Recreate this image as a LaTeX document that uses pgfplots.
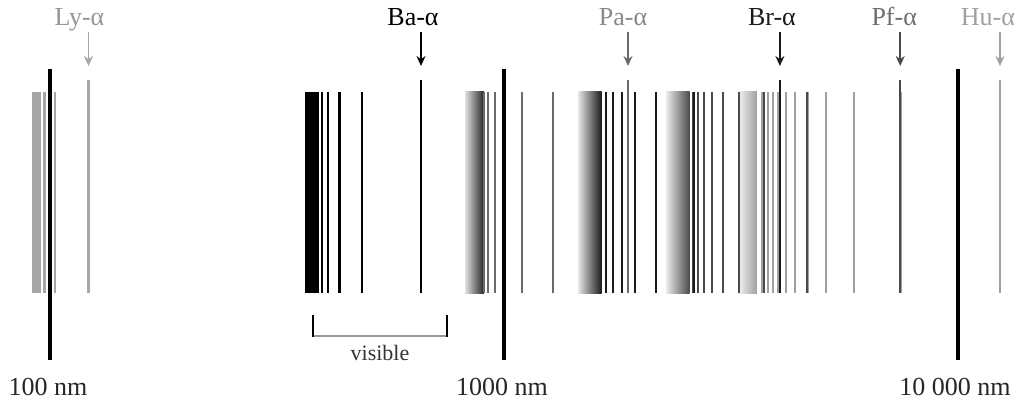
\documentclass[border=0pt]{standalone}
\usepackage{fontspec}
\setmainfont{Liberation Serif}
\usepackage{pgfplots}
\pgfplotsset{compat=1.18}
\usetikzlibrary{arrows.meta}
\definecolor{lyc}{HTML}{A6A6A6}
\definecolor{bac}{HTML}{000000}
\definecolor{pac}{HTML}{6A6A6A}
\definecolor{brc}{HTML}{1A1A1A}
\definecolor{pfc}{HTML}{4A4A4A}
\definecolor{huc}{HTML}{A0A0A0}
\pgfplotsset{
  specline/.style={only marks, mark=|, mark size=100.5pt, mark options={line width=2.1pt}},
  alphaline/.style={only marks, mark=|, mark size=106.5pt, mark options={line width=2.1pt}},
  arr/.style={line width=1.8pt, -{Stealth[length=10pt,width=9pt]}},
}
\begin{document}
\begin{tikzpicture}
\begin{axis}[xmode=log, xmin=77.62, xmax=13626, ymin=0, ymax=403,
  width=1019pt, height=403pt, scale only axis, hide axis, clip=false]
\path (rel axis cs:0,0) rectangle (rel axis cs:1,1);

% ---------- Humphreys ----------
\addplot[draw=none, left color=huc!15, right color=huc] coordinates {(3282.3,110) (3607,110) (3607,311) (3282.3,311)} --cycle;
\addplot[specline, huc] table {
x y
3692.6 210.5
3819.4 210.5
3907.5 210.5
4020.8 210.5
4170.7 210.5
4376.4 210.5
4672.5 210.5
5128.6 210.5
5908.1 210.5
7502.4 210.5
};
\addplot[alphaline, huc] coordinates {(12371.8,216.5)};

% ---------- Pfund ----------
\addplot[draw=none, left color=pfc!12, right color=pfc] coordinates {(2279.4,110) (2564,110) (2564,311) (2279.4,311)} --cycle;
\addplot[specline, pfc] table {
x y
2612.6 210.5
2675.1 210.5
2758.3 210.5
2873.0 210.5
3039.2 210.5
3297.0 210.5
3740.5 210.5
4653.8 210.5
};
\addplot[alphaline, pfc] coordinates {(7459.9,216.5)};

% ---------- Brackett ----------
\addplot[draw=none, left color=brc!12, right color=brc] coordinates {(1458.8,110) (1641,110) (1641,311) (1458.8,311)} --cycle;
\addplot[specline, brc] table {
x y
1681.1 210.5
1736.7 210.5
1817.9 210.5
1945.1 210.5
2166.1 210.5
2625.9 210.5
};
\addplot[alphaline, brc] coordinates {(4052.3,216.5)};

% ---------- Paschen ----------
\addplot[draw=none, left color=black!12, right color=black!85] coordinates {(820.6,110) (903,110) (903,311) (820.6,311)} --cycle;
\addplot[specline, pac] table {
x y
901.7 210.5
923.2 210.5
954.9 210.5
1005.2 210.5
1094.1 210.5
1282.2 210.5
};
\addplot[alphaline, pac] coordinates {(1875.6,216.5)};

% ---------- Balmer ----------
\addplot[draw=none, fill=bac] coordinates {(364.7,110) (389.0,110) (389.0,311) (364.7,311)} --cycle;
\addplot[specline, bac] table {
x y
389.01 210.5
397.12 210.5
410.29 210.5
434.17 210.5
486.27 210.5
};
\addplot[alphaline, bac] coordinates {(656.47,216.5)};

% ---------- Lyman ----------
\addplot[draw=none, fill=lyc] coordinates {(91.18,110) (95.6,110) (95.6,311) (91.18,311)} --cycle;
\addplot[specline, lyc] table {
x y
94.97 210.5
97.25 210.5
102.57 210.5
};
\addplot[alphaline, lyc] coordinates {(121.57,216.5)};

% ---------- scale markers ----------
\addplot[only marks, mark=|, mark size=145.5pt, mark options={line width=4pt}, black] coordinates {(100,188.5) (1000,188.5) (10000,188.5)};

% ---------- arrows ----------
\addplot[arr, lyc] coordinates {(121.57,371) (121.57,337)};
\addplot[arr, bac] coordinates {(656.47,371) (656.47,337)};
\addplot[arr, pac] coordinates {(1875.6,371) (1875.6,337)};
\addplot[arr, brc] coordinates {(4052.3,371) (4052.3,337)};
\addplot[arr, pfc] coordinates {(7459.9,371) (7459.9,337)};
\addplot[arr, huc] coordinates {(12371.8,371) (12371.8,337)};

% ---------- visible bracket ----------
\addplot[line width=2pt, gray!80] coordinates {(380,67) (750,67)};
\addplot[line width=2pt, black] coordinates {(380,88) (380,66)};
\addplot[line width=2pt, black] coordinates {(750,88) (750,66)};

% ---------- labels ----------
\begin{scope}[every node/.style={anchor=base, font=\fontsize{26}{30}\selectfont, inner sep=0pt}]
\node[text=lyc!90!black, xshift=-9pt] at (axis cs:121.57,377) {Ly-α};
\node[text=black, xshift=-8pt] at (axis cs:656.47,377) {Ba-α};
\node[text=pac!80, xshift=-5pt] at (axis cs:1875.6,377) {Pa-α};
\node[text=brc, xshift=-8pt] at (axis cs:4052.3,377) {Br-α};
\node[text=pfc!80, xshift=-6pt] at (axis cs:7459.9,377) {Pf-α};
\node[text=huc, xshift=-12pt] at (axis cs:12371.8,377) {Hu-α};
\node[text=black!85, xshift=-2pt] at (axis cs:100,8) {100 nm};
\node[text=black!85, xshift=-2pt] at (axis cs:1000,8) {1000 nm};
\node[text=black!85, xshift=-3pt] at (axis cs:10000,8) {10~000 nm};
\end{scope}
\node[anchor=base, inner sep=0pt, text=black!80, font=\fontsize{22}{26}\selectfont] at (axis cs:533.2,43) {visible};
\end{axis}
\end{tikzpicture}
\end{document}
